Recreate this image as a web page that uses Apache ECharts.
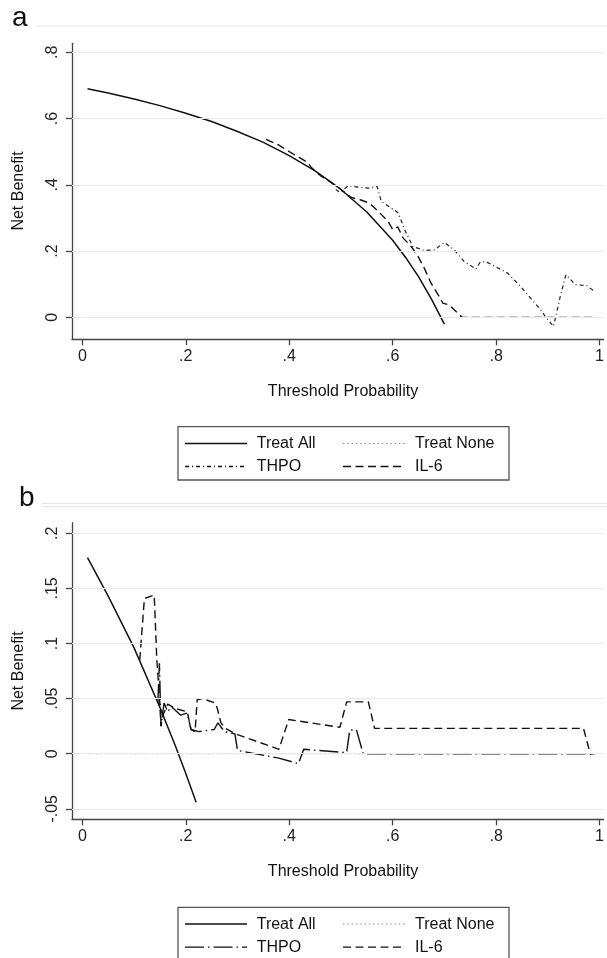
<!DOCTYPE html>
<html>
<head>
<meta charset="utf-8">
<script src="https://cdn.jsdelivr.net/npm/echarts@6/dist/echarts.min.js"></script>
<style>
html,body{margin:0;padding:0;background:#fff;}
#chart{width:607px;height:958px;}
</style>
</head>
<body>
<div id="chart"></div>
<script>
// ---------- data ----------
const xTicks = [0, 0.2, 0.4, 0.6, 0.8, 1];
const yTicksA = [0, 0.2, 0.4, 0.6, 0.8];
const yTicksB = [-0.05, 0, 0.05, 0.1, 0.15, 0.2];

// Panel a: [threshold, net benefit]
const treatAllA = [[0.01,0.690],[0.05,0.677],[0.10,0.659],[0.15,0.639],[0.20,0.616],[0.25,0.591],[0.30,0.561],[0.35,0.528],[0.40,0.488],[0.45,0.442],[0.50,0.386],[0.55,0.318],[0.60,0.233],[0.625,0.181],[0.65,0.123],[0.675,0.055],[0.70,-0.020]];
const treatNoneA = [[0.01,0],[0.99,0]];
const thpoA = [[0.490,0.386],[0.498,0.377],[0.514,0.397],[0.533,0.393],[0.553,0.390],[0.570,0.395],[0.578,0.350],[0.604,0.323],[0.611,0.315],[0.623,0.265],[0.639,0.214],[0.661,0.202],[0.681,0.204],[0.700,0.226],[0.719,0.204],[0.738,0.169],[0.761,0.146],[0.770,0.169],[0.783,0.166],[0.822,0.134],[0.847,0.094],[0.886,0.023],[0.895,0.003],[0.911,-0.027],[0.924,0.063],[0.935,0.129],[0.953,0.099],[0.975,0.096],[0.991,0.078]];
const il6A = [[0.355,0.537],[0.380,0.520],[0.400,0.500],[0.420,0.482],[0.435,0.468],[0.443,0.452],[0.460,0.428],[0.480,0.408],[0.500,0.386],[0.520,0.362],[0.537,0.355],[0.555,0.345],[0.572,0.320],[0.591,0.290],[0.600,0.265],[0.610,0.273],[0.620,0.240],[0.636,0.214],[0.649,0.184],[0.661,0.149],[0.674,0.104],[0.690,0.063],[0.697,0.043],[0.709,0.038],[0.729,0.008],[0.735,0],[0.990,0]];

// Panel b
const treatAllB = [[0.01,0.178],[0.05,0.143],[0.10,0.096],[0.15,0.042],[0.18,0.007],[0.20,-0.018],[0.22,-0.044]];
const treatNoneB = [[0.01,0],[0.99,0]];
const thpoB = [[0.146,0.046],[0.149,0.082],[0.152,0.025],[0.158,0.046],[0.165,0.038],[0.172,0.043],[0.190,0.035],[0.203,0.037],[0.210,0.022],[0.225,0.020],[0.255,0.022],[0.262,0.028],[0.275,0.020],[0.295,0.018],[0.300,0.003],[0.380,-0.004],[0.418,-0.009],[0.428,0.004],[0.511,0.001],[0.517,0.0215],[0.530,0.0215],[0.543,0],[0.990,0]];
const il6B = [[0.111,0.085],[0.120,0.141],[0.127,0.142],[0.139,0.144],[0.144,0.085],[0.149,0.052],[0.152,0.025],[0.155,0.034],[0.165,0.045],[0.180,0.041],[0.203,0.038],[0.210,0.022],[0.218,0.020],[0.222,0.049],[0.232,0.050],[0.257,0.046],[0.261,0.041],[0.268,0.028],[0.277,0.023],[0.296,0.018],[0.380,0.004],[0.399,0.031],[0.498,0.024],[0.511,0.047],[0.553,0.047],[0.565,0.023],[0.969,0.023],[0.982,0],[0.990,0]];

// ---------- styling ----------
const FONT = '"Liberation Sans", Arial, Helvetica, sans-serif';
const AX = '#444';
const GRIDC = '#e1ecef';
const DASH_IL6 = [8, 4.5];
const DASH_THPO_A = [4, 3, 1, 3];
const DASH_THPO_B = [19, 4, 1.5, 4];
const DOT_NONE = [1.5, 2.8];

function fmt(v){
  if (Math.abs(v) < 1e-9) return '0';
  let s = String(+v.toFixed(2));
  return s.replace(/^(-?)0\./, '$1.');
}

function xAxisFor(i){
  return {
    type:'value', gridIndex:i, min:-0.02, max:1.008,
    axisLine:{show:true, onZero:false, lineStyle:{color:AX, width:1.3}},
    axisTick:{show:true, customValues:xTicks, length:6, lineStyle:{color:AX, width:1.3}},
    axisLabel:{customValues:xTicks, formatter:fmt, margin:9, fontSize:16, color:'#222', fontFamily:FONT},
    splitLine:{show:false}
  };
}
function yAxisFor(i, min, max, ticks){
  return {
    type:'value', gridIndex:i, min:min, max:max,
    axisLine:{show:true, onZero:false, lineStyle:{color:AX, width:1.3}},
    axisTick:{show:true, customValues:ticks, length:6, lineStyle:{color:AX, width:1.3}},
    axisLabel:{customValues:ticks, formatter:fmt, rotate:90, margin:11, fontSize:16, color:'#222', fontFamily:FONT},
    splitLine:{show:false}
  };
}
function lineSeries(name, data, i, color, width, dash, z){
  return {
    name:name, type:'line', xAxisIndex:i, yAxisIndex:i, data:data,
    symbol:'none', showSymbol:false, smooth:false, animation:false, z:z,
    lineStyle:{color:color, width:width, type:dash}
  };
}
function gridMarks(ticks){
  return {
    silent:true, symbol:'none', animation:false,
    label:{show:false},
    lineStyle:{color:GRIDC, width:1.2, type:'solid'},
    data:ticks.map(v => ({yAxis:v}))
  };
}

const series = [];
// panel a
const noneA = lineSeries('Treat None', treatNoneA, 0, '#8a8a8a', 1, DOT_NONE, 2);
noneA.markLine = gridMarks(yTicksA);
series.push(noneA);
series.push(lineSeries('Treat All', treatAllA, 0, '#111', 1.5, 'solid', 3));
series.push(lineSeries('THPO', thpoA, 0, '#222', 1.2, DASH_THPO_A, 3));
series.push(lineSeries('IL-6', il6A, 0, '#111', 1.4, DASH_IL6, 3));
// panel b
const noneB = lineSeries('Treat None', treatNoneB, 1, '#8a8a8a', 1, DOT_NONE, 2);
noneB.markLine = gridMarks(yTicksB);
series.push(noneB);
series.push(lineSeries('Treat All', treatAllB, 1, '#111', 1.5, 'solid', 3));
series.push(lineSeries('THPO', thpoB, 1, '#111', 1.4, DASH_THPO_B, 3));
series.push(lineSeries('IL-6', il6B, 1, '#111', 1.4, DASH_IL6, 3));

// ---------- graphic (panel labels, titles, legends) ----------
function legendBox(top, thpoDash){
  const left = 178, w = 331, h = 53.3;
  const r1 = top + 16.8, r2 = top + 39.8;
  const els = [
    {type:'rect', shape:{x:left, y:top, width:w, height:h}, style:{fill:'#fff', stroke:'#555', lineWidth:1.3}},
    {type:'line', shape:{x1:185, y1:r1, x2:247, y2:r1}, style:{stroke:'#111', lineWidth:1.5}},
    {type:'line', shape:{x1:343, y1:r1, x2:405, y2:r1}, style:{stroke:'#8a8a8a', lineWidth:1, lineDash:DOT_NONE}},
    {type:'line', shape:{x1:185, y1:r2, x2:247, y2:r2}, style:{stroke:'#111', lineWidth:1.3, lineDash:thpoDash}},
    {type:'line', shape:{x1:343, y1:r2, x2:405, y2:r2}, style:{stroke:'#111', lineWidth:1.4, lineDash:DASH_IL6}}
  ];
  const txt = (t, x, y) => ({type:'text', style:{text:t, x:x, y:y, fill:'#111', font:'16px ' + FONT, textAlign:'left', textVerticalAlign:'middle'}});
  els.push(txt('Treat All', 256.7, r1));
  els.push(txt('Treat None', 415, r1));
  els.push(txt('THPO', 256.7, r2));
  els.push(txt('IL-6', 415, r2));
  return els;
}
const ctxt = (t, x, y, rot) => ({type:'text', x:x, y:y, rotation:rot || 0,
  style:{text:t, x:0, y:0, fill:'#111', font:'16px ' + FONT, textAlign:'center', textVerticalAlign:'middle'}});

const graphic = [
  {type:'text', style:{text:'a', x:12, y:32, fill:'#111', font:'28px ' + FONT, textAlign:'left', textVerticalAlign:'bottom'}},
  {type:'line', shape:{x1:37, y1:26, x2:607, y2:26}, style:{stroke:'#dfeaee', lineWidth:1.2}},
  {type:'text', style:{text:'b', x:19, y:512, fill:'#111', font:'28px ' + FONT, textAlign:'left', textVerticalAlign:'bottom'}},
  {type:'line', shape:{x1:42, y1:503.3, x2:607, y2:503.3}, style:{stroke:'#dfeaee', lineWidth:1.2}},
  {type:'line', shape:{x1:42, y1:506.7, x2:607, y2:506.7}, style:{stroke:'#dfeaee', lineWidth:1.2}},
  ctxt('Threshold Probability', 343, 391.7),
  ctxt('Threshold Probability', 343, 871.7),
  ctxt('Net Benefit', 19, 191, Math.PI/2),
  ctxt('Net Benefit', 19, 671, Math.PI/2)
].concat(legendBox(426.7, DASH_THPO_A), legendBox(907.3, DASH_THPO_B));

const chart = echarts.init(document.getElementById('chart'), null, {renderer:'canvas'});
chart.setOption({
  animation:false,
  backgroundColor:'#fff',
  grid:[
    {left:72, top:43.3, width:535, height:296},
    {left:72, top:522.7, width:535, height:296.6}
  ],
  xAxis:[xAxisFor(0), xAxisFor(1)],
  yAxis:[yAxisFor(0, -0.066, 0.827, yTicksA), yAxisFor(1, -0.0595, 0.2096, yTicksB)],
  series:series,
  graphic:graphic
});
</script>
</body>
</html>
